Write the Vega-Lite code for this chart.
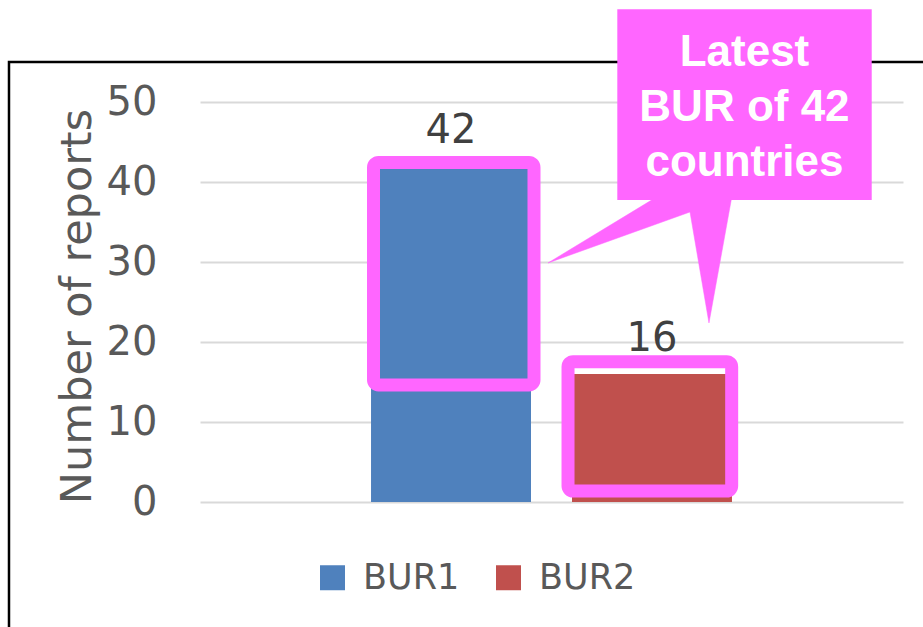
{
  "$schema": "https://vega.github.io/schema/vega-lite/v6.json",
  "width": 703,
  "height": 400,
  "autosize": {"type": "none"},
  "padding": {"left": 200, "top": 102, "right": 20, "bottom": 125},
  "background": "white",
  "config": {"view": {"stroke": null}, "font": "DejaVu Sans"},
  "datasets": {
    "reports": [
      {"series": "BUR1", "count": 42},
      {"series": "BUR2", "count": 16}
    ],
    "highlights": [
      {"x1": 24.68, "x2": 47.51, "y1": 42.44, "y2": 14.63},
      {"x1": 52.35, "x2": 75.63, "y1": 17.54, "y2": 1.375}
    ],
    "pointer": [
      {"i": 0, "px": 65.29, "py": 38.3},
      {"i": 1, "px": 49.5, "py": 29.88},
      {"i": 2, "px": 69.7, "py": 36.25},
      {"i": 3, "px": 72.4, "py": 22.38},
      {"i": 4, "px": 75.68, "py": 38.3}
    ],
    "blank": [{}]
  },
  "resolve": {"scale": {"x": "independent", "y": "independent"}},
  "layer": [
    {
      "data": {"name": "blank"},
      "mark": {"type": "rect", "fill": "transparent", "stroke": "#000000", "strokeWidth": 2.5, "clip": false},
      "encoding": {
        "x": {"datum": -27.17, "type": "quantitative", "scale": {"domain": [0, 100], "nice": false}, "axis": null},
        "x2": {"datum": 110},
        "y": {"datum": 55, "type": "quantitative", "scale": {"domain": [0, 50], "nice": false}, "axis": null},
        "y2": {"datum": -20}
      }
    },
    {
      "data": {"name": "reports"},
      "layer": [
        {
          "mark": {"type": "bar"},
          "encoding": {
            "x": {"field": "series", "type": "nominal", "scale": {"paddingInner": 0.204, "paddingOuter": 0.851}, "axis": null},
            "y": {
              "field": "count", "type": "quantitative",
              "scale": {"domain": [0, 50], "nice": false},
              "axis": {
                "title": "Number of reports",
                "titleFontSize": 43, "titleFontWeight": "normal", "titleColor": "#595959",
                "titleX": -110, "titleY": 204, "titleAngle": 270, "titleAlign": "center", "titleBaseline": "alphabetic",
                "labelFontSize": 40, "labelColor": "#595959", "labelPadding": 43,
                "ticks": false, "domain": false, "grid": true, "gridColor": "#D9D9D9", "gridWidth": 2,
                "values": [0, 10, 20, 30, 40, 50]
              }
            },
            "color": {
              "field": "series", "type": "nominal",
              "scale": {"range": ["#4F81BD", "#C0504D"]},
              "legend": {
                "orient": "none", "legendX": 115, "legendY": 458, "direction": "horizontal",
                "title": null, "symbolType": "square", "symbolSize": 625, "symbolStrokeWidth": 0,
                "labelFontSize": 35, "labelColor": "#595959", "labelOffset": 13, "columnPadding": 31, "padding": 0
              }
            }
          }
        },
        {
          "mark": {"type": "text", "dy": -23, "baseline": "alphabetic", "fontSize": 40, "color": "#404040"},
          "encoding": {
            "x": {"field": "series", "type": "nominal"},
            "y": {"field": "count", "type": "quantitative"},
            "text": {"field": "count", "type": "quantitative"}
          }
        }
      ]
    },
    {
      "layer": [
        {
          "data": {"name": "highlights"},
          "mark": {"type": "rect", "fill": "transparent", "stroke": "#FF66FF", "strokeWidth": 13, "cornerRadius": 5, "clip": false},
          "encoding": {
            "x": {"field": "x1", "type": "quantitative", "scale": {"domain": [0, 100], "nice": false}, "axis": null},
            "x2": {"field": "x2"},
            "y": {"field": "y1", "type": "quantitative", "scale": {"domain": [0, 50], "nice": false}, "axis": null},
            "y2": {"field": "y2"}
          }
        },
        {
          "data": {"name": "pointer"},
          "mark": {"type": "line", "fill": "#FF66FF", "stroke": "#FF66FF", "strokeWidth": 0.5, "clip": false},
          "encoding": {
            "x": {"field": "px", "type": "quantitative"},
            "y": {"field": "py", "type": "quantitative"},
            "order": {"field": "i", "type": "quantitative"}
          }
        },
        {
          "data": {"name": "blank"},
          "mark": {"type": "rect", "fill": "#FF66FF", "clip": false},
          "encoding": {
            "x": {"datum": 59.36, "type": "quantitative"},
            "x2": {"datum": 95.55},
            "y": {"datum": 61.59, "type": "quantitative"},
            "y2": {"datum": 37.75}
          }
        },
        {
          "data": {"name": "blank"},
          "mark": {"type": "text", "lineBreak": "\n", "font": "Liberation Sans", "fontWeight": "bold", "fontSize": 44, "lineHeight": 55, "color": "#FFFFFF", "align": "center", "baseline": "alphabetic", "clip": false},
          "encoding": {
            "x": {"datum": 77.45, "type": "quantitative"},
            "y": {"datum": 54.5, "type": "quantitative"},
            "text": {"value": "Latest\nBUR of 42\ncountries"}
          }
        }
      ]
    }
  ]
}
